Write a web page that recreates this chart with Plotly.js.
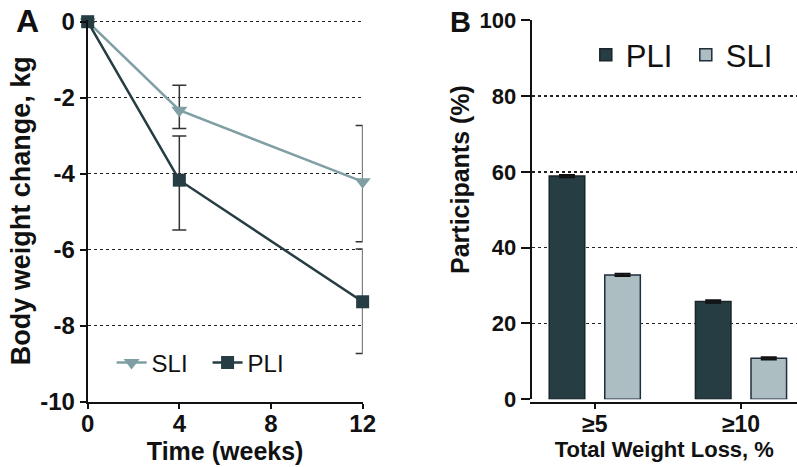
<!DOCTYPE html>
<html>
<head>
<meta charset="utf-8">
<script src="https://cdn.plot.ly/plotly-3.0.1.min.js"></script>
<style>html,body{margin:0;padding:0;background:#fff;}#chart{width:797px;height:467px;}</style>
</head>
<body>
<div id="chart"></div>
<script>
// Panel A: body weight change over time
const weeks = [0, 4, 12];
const sliMean = [0, -2.33, -4.21];
const sliUpperErr = [0, 0.66, 1.48];
const sliLowerErr = [0, 0.48, 1.58];
const pliMean = [0, -4.17, -7.37];
const pliUpperErr = [0, 1.16, 1.39];
const pliLowerErr = [0, 1.31, 1.36];
const timeTicks = [0, 4, 8, 12];
const weightTicks = [0, -2, -4, -6, -8, -10];
const weightTickText = ['0', '-2', '-4', '-6', '-8', '-10'];

// Panel B: participants reaching weight-loss thresholds
const thresholds = ['≥5', '≥10'];
const pliPct = [58.9, 25.8];
const sliPct = [32.8, 10.8];
const pliErr = [0.3, 0.3];
const sliErr = [0.3, 0.3];
const pctTicks = [0, 20, 40, 60, 80, 100];
const pctGrid = [20, 40, 60, 80];

const DARK = '#263d43';
const LINE_LIGHT = '#7f9fa4';
const BAR_LIGHT = '#adbec3';
const FONT = 'Liberation Sans, Arial, sans-serif';

const traces = [
  {
    x: weeks, y: sliMean, type: 'scatter', mode: 'lines+markers', name: 'SLI',
    xaxis: 'x', yaxis: 'y', legend: 'legend', cliponaxis: false,
    line: {color: LINE_LIGHT, width: 2.5},
    marker: {symbol: 'triangle-down', size: 14, color: LINE_LIGHT},
    error_y: {type: 'data', array: sliUpperErr, arrayminus: sliLowerErr, color: '#333', thickness: 1.5, width: 7}
  },
  {
    x: weeks, y: pliMean, type: 'scatter', mode: 'lines+markers', name: 'PLI',
    xaxis: 'x', yaxis: 'y', legend: 'legend', cliponaxis: false,
    line: {color: DARK, width: 2.5},
    marker: {symbol: 'square', size: 13, color: DARK},
    error_y: {type: 'data', array: pliUpperErr, arrayminus: pliLowerErr, color: '#333', thickness: 1.5, width: 7}
  },
  {
    x: thresholds, y: pliPct, type: 'bar', name: 'PLI',
    xaxis: 'x2', yaxis: 'y2', legend: 'legend2',
    marker: {color: DARK, line: {color: '#1a252a', width: 1.5}},
    error_y: {type: 'data', array: pliErr, color: '#111', thickness: 2, width: 8}
  },
  {
    x: thresholds, y: sliPct, type: 'bar', name: 'SLI',
    xaxis: 'x2', yaxis: 'y2', legend: 'legend2',
    marker: {color: BAR_LIGHT, line: {color: '#1f2d3d', width: 1.5}},
    error_y: {type: 'data', array: sliErr, color: '#111', thickness: 2, width: 8}
  }
];

const layout = {
  width: 797, height: 467,
  margin: {l: 0, r: 0, t: 0, b: 0},
  paper_bgcolor: '#fff', plot_bgcolor: 'rgba(0,0,0,0)',
  font: {family: FONT, color: '#111'},
  barmode: 'group', bargap: 0.24, bargroupgap: 0.36,
  xaxis: {
    domain: [0.110, 0.455], range: [0, 12], tickvals: timeTicks,
    showline: true, linecolor: '#111', linewidth: 2, ticks: 'outside', ticklen: 5, tickwidth: 2, tickcolor: '#111',
    showgrid: false, zeroline: false, automargin: false, ticklabelstandoff: -6,
    tickfont: {size: 24, weight: 'bold', family: FONT},
    title: {text: 'Time (weeks)', font: {size: 25, weight: 'bold', family: FONT}, standoff: 0}
  },
  yaxis: {
    domain: [0.1398, 0.9576], range: [-10, 0.05], tickvals: weightTicks, ticktext: weightTickText,
    showline: true, linecolor: '#111', linewidth: 2, ticks: 'outside', ticklen: 6, tickwidth: 2, tickcolor: '#111',
    showgrid: true, gridcolor: '#222', gridwidth: 1.3, griddash: 'dot', zeroline: false, automargin: false,
    tickfont: {size: 24, weight: 'bold', family: FONT},
    title: {text: 'Body weight change, kg', font: {size: 27, weight: 'bold', family: FONT}, standoff: 2}
  },
  xaxis2: {
    domain: [0.667, 1], range: [-0.432, 1.383], type: 'category',
    showline: true, linecolor: '#111', linewidth: 2, ticks: 'outside', ticklen: 5, tickwidth: 2, tickcolor: '#111',
    showgrid: false, zeroline: false, automargin: false, ticklabelstandoff: -4,
    tickfont: {size: 23, weight: 'bold', family: FONT},
    title: {text: 'Total Weight Loss, %', font: {size: 22, weight: 'bold', family: FONT}, standoff: 0}
  },
  yaxis2: {
    domain: [0.145, 0.9565], range: [0, 100], tickvals: pctTicks, anchor: 'x2',
    showline: true, linecolor: '#111', linewidth: 2, ticks: 'outside', ticklen: 9, tickwidth: 2, tickcolor: '#111',
    showgrid: false, zeroline: false, automargin: false,
    minor: {tickmode: 'array', tickvals: pctGrid, showgrid: true, gridcolor: '#222', gridwidth: 1.3, griddash: 'dot', ticks: ''},
    tickfont: {size: 22, weight: 'bold', family: FONT}
  },
  legend: {
    orientation: 'h', x: 0.14, y: 0.223, xanchor: 'left', yanchor: 'middle',
    entrywidth: 51, entrywidthmode: 'pixels',
    font: {size: 24, family: FONT, color: '#111'}, bgcolor: 'rgba(0,0,0,0)', traceorder: 'normal'
  },
  legend2: {
    orientation: 'h', x: 0.735, y: 0.882, xanchor: 'left', yanchor: 'middle',
    entrywidth: 55, entrywidthmode: 'pixels',
    font: {size: 31, family: FONT, color: '#111'}, bgcolor: 'rgba(0,0,0,0)', traceorder: 'normal'
  },
  annotations: [
    {text: 'A', x: 27, y: 21, xref: 'paper', yref: 'paper', showarrow: false, font: {size: 32, weight: 'bold', family: FONT}},
    {text: 'B', x: 460, y: 22, xref: 'paper', yref: 'paper', showarrow: false, font: {size: 29, weight: 'bold', family: FONT}},
    {text: 'Participants (%)', textangle: -90, x: 460, y: 180, xref: 'paper', yref: 'paper', showarrow: false, font: {size: 25, weight: 'bold', family: FONT}}
  ],
  showlegend: true
};
// convert pixel anchors for annotations into paper fractions
layout.annotations.forEach(a => { a.x = a.x / 797; a.y = 1 - a.y / 467; a.xanchor = 'center'; a.yanchor = 'middle'; });

Plotly.newPlot('chart', traces, layout, {displayModeBar: false, staticPlot: true});
</script>
</body>
</html>
